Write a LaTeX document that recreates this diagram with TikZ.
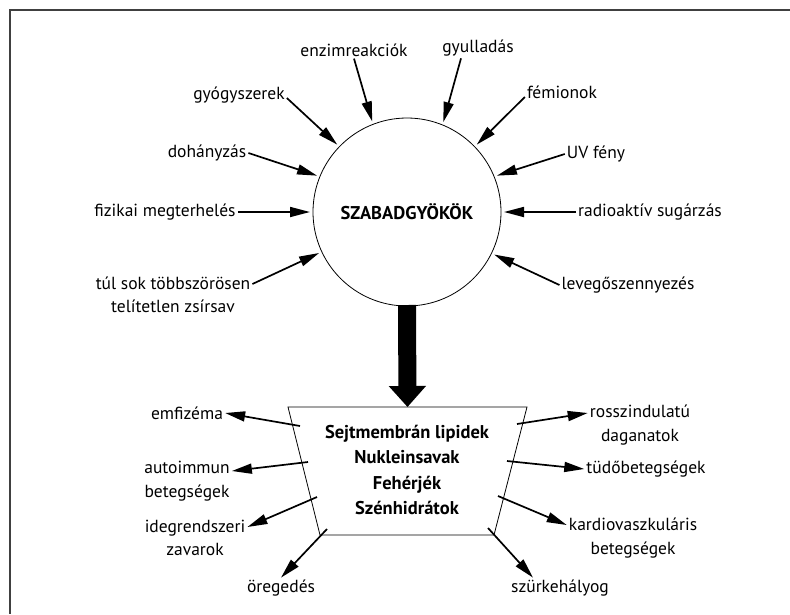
\documentclass[tikz,border=0pt]{standalone}
\usepackage{fontspec}
\setmainfont{PT Sans}
\usetikzlibrary{arrows.meta,calc}
\begin{document}
\begin{tikzpicture}[x=1pt,y=-1pt,
  lbl/.style={font=\fontsize{17.5}{23.5}\selectfont, align=center, inner sep=2pt},
  arr/.style={line width=1.7pt, -{Triangle[length=20pt,width=10pt]}},
  molbox/.style={font=\fontsize{18.5}{25.6}\selectfont\bfseries, align=center}]
\useasboundingbox (0,0) rectangle (790,614);
\draw[black!75, line width=1.5pt] (790,10) -- (10,10) -- (10,614);
% causes
\node[circle, draw, line width=0.8pt, minimum size=188pt, inner sep=0pt, outer sep=3pt,
  font=\fontsize{18.5}{20}\selectfont\bfseries] (circ) at (407,212) {SZABADGYÖKÖK};
\node[lbl] (enz) at (354,50) {enzimreakciók};
\node[lbl] (gyul) at (478,48) {gyulladás};
\node[lbl] (fem) at (562,92) {fémionok};
\node[lbl] (uv) at (596,154) {UV fény};
\node[lbl] (rad) at (650,212) {radioaktív sugárzás};
\node[lbl] (lev) at (628,285) {levegőszennyezés};
\node[lbl] (gyog) at (239,95) {gyógyszerek};
\node[lbl] (doh) at (207,153) {dohányzás};
\node[lbl] (fiz) at (165,212) {fizikai megterhelés};
\node[lbl] (tul) at (173,295) {túl sok többszörösen\\telítetlen zsírsav};
\draw[arr] (enz.south) -- (circ.111);
\draw[arr] ([xshift=-17pt]gyul.south) -- (circ.68);
\draw[arr] ([yshift=-5pt]fem.west) -- (circ.44);
\draw[arr] (uv.west) -- (circ.22);
\draw[arr] (rad.west) -- (circ.0);
\draw[arr] (lev.west) -- (circ.-26);
\draw[arr] ([yshift=-3pt]gyog.east) -- (circ.136);
\draw[arr] (doh.east) -- (circ.158);
\draw[arr] (fiz.east) -- (circ.180);
\draw[arr] ([yshift=11pt]tul.east) -- (circ.205);
% targets
\coordinate (tl) at (288,407); \coordinate (tr) at (527,407);
\coordinate (br) at (494,535); \coordinate (bl) at (320,535);
\draw[line width=0.8pt] (tl) -- (tr) -- (br) -- (bl) -- cycle;
\node[molbox] (mol) at (407,470) {Sejtmembrán lipidek\\Nukleinsavak\\Fehérjék\\Szénhidrátok};
\draw[line width=18pt, -{Triangle[length=21pt,width=36pt]}] ([yshift=4pt]circ.south) -- ($(tl)!0.5!(tr)$);
% effects
\node[lbl] (emf) at (187,413) {emfizéma};
\node[lbl] (auto) at (187,481) {autoimmun\\betegségek};
\node[lbl] (ideg) at (195,538) {idegrendszeri\\zavarok};
\node[lbl] (oreg) at (281,588) {öregedés};
\node[lbl] (rossz) at (640,425) {rosszindulatú\\daganatok};
\node[lbl] (tudo) at (646,469) {tüdőbetegségek};
\node[lbl] (kard) at (633,538) {kardiovaszkuláris\\betegségek};
\node[lbl] (szur) at (560,588) {szürkehályog};
\coordinate (e1) at (300,426); \coordinate (e2) at (308,462);
\coordinate (e3) at (317,497); \coordinate (e4) at (327,529);
\coordinate (e5) at (517,424); \coordinate (e6) at (507,461);
\coordinate (e7) at (498,496); \coordinate (e8) at (488,528);
\draw[arr] (e1) -- (emf.east);
\draw[arr] (e2) -- ([yshift=10pt]auto.east);
\draw[arr] (e3) -- ([yshift=11pt]ideg.east);
\draw[arr] (e4) -- (oreg.north);
\draw[arr] (e5) -- ([yshift=12pt]rossz.west);
\draw[arr] (e6) -- (tudo.west);
\draw[arr] (e7) -- ([yshift=13pt]kard.west);
\draw[arr] (e8) -- ([xshift=-27pt]szur.north);
\end{tikzpicture}
\end{document}
